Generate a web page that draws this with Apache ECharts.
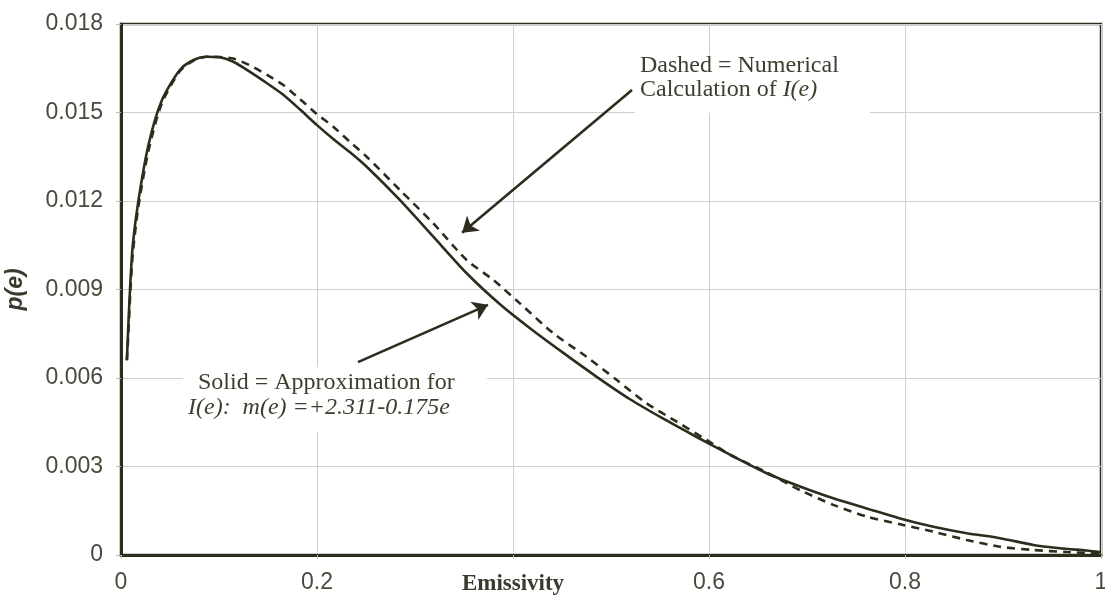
<!DOCTYPE html>
<html>
<head>
<meta charset="utf-8">
<script src="https://cdn.jsdelivr.net/npm/echarts@6/dist/echarts.min.js"></script>
<style>
  html, body { margin: 0; padding: 0; background: #fff; }
  #chart-box { width: 1105px; height: 597px; }
</style>
</head>
<body>
<div id="chart-box"></div>
<script>
// values
var solidX = [0.006, 0.0075, 0.0095, 0.012, 0.0177, 0.028, 0.0415, 0.06, 0.074, 0.0874, 0.101, 0.1146, 0.1316, 0.1487, 0.1656, 0.1827, 0.1997, 0.2166, 0.2337, 0.2507, 0.2847, 0.3187, 0.3527, 0.3867, 0.4207, 0.4513, 0.4854, 0.5194, 0.5534, 0.5874, 0.6214, 0.6589, 0.6929, 0.7268, 0.7609, 0.7949, 0.829, 0.863, 0.897, 0.931, 0.958, 0.985, 0.999];
var solidY = [0.0066, 0.0078, 0.0092, 0.0105, 0.012, 0.0139, 0.0154, 0.01644, 0.01678, 0.01689, 0.01687, 0.01672, 0.01638, 0.016, 0.0156, 0.0151, 0.01458, 0.0141, 0.01365, 0.01316, 0.01203, 0.01079, 0.00955, 0.0085, 0.0076, 0.00685, 0.00604, 0.00528, 0.00462, 0.004, 0.0034, 0.00277, 0.00232, 0.00192, 0.00158, 0.00124, 0.00096, 0.00074, 0.00057, 0.00034, 0.00023, 0.00015, 0.0001];

var dashX = [0.006, 0.0075, 0.0095, 0.012, 0.0177, 0.028, 0.0415, 0.06, 0.074, 0.0874, 0.101, 0.1146, 0.1316, 0.1487, 0.1656, 0.1827, 0.1997, 0.2166, 0.2337, 0.2507, 0.2847, 0.3187, 0.3527, 0.38, 0.407, 0.441, 0.475, 0.506, 0.5364, 0.567, 0.5976, 0.6214, 0.6589, 0.6929, 0.7268, 0.761, 0.795, 0.829, 0.863, 0.897, 0.931, 0.965, 0.999];
var dashY = [0.0066, 0.0075, 0.0089, 0.0102, 0.0118, 0.0137, 0.0153, 0.0164, 0.01676, 0.01689, 0.01688, 0.01683, 0.0166, 0.01628, 0.01593, 0.01545, 0.01495, 0.01452, 0.014, 0.0135, 0.01237, 0.01124, 0.01, 0.00932, 0.00853, 0.00752, 0.00672, 0.00593, 0.00514, 0.00452, 0.0039, 0.0034, 0.0028, 0.0022, 0.0017, 0.0013, 0.00104, 0.00079, 0.00051, 0.00028, 0.00017, 0.0001, 0.00005];

var xTickLabels = ["0", "0.2", "Emissivity", "0.6", "0.8", "1"];
var yTickLabels = ["0", "0.003", "0.006", "0.009", "0.012", "0.015", "0.018"];

// arrows (tail -> head) in data units
var arrowDashed = [[0.5214, 0.01576], [0.348, 0.01092]];
var arrowSolid = [[0.2418, 0.00654], [0.3745, 0.00848]];

function pairs(xs, ys) {
    return xs.map(function (x, i) { return [x, ys[i]]; });
}

var ink = "#2e2c1c";
var labelGray = "#4a4a3c";

var myChart = echarts.init(document.getElementById("chart-box"));
var option = {
    animation: false,
    backgroundColor: "#fff",
    grid: {
        left: 121, right: 4, top: 24, bottom: 42,
        outerBoundsMode: "none", containLabel: false,
        show: true, borderColor: ink, borderWidth: 2.5, backgroundColor: "transparent"
    },
    xAxis: {
        type: "value", min: 0, max: 1, interval: 0.2,
        axisLine: { lineStyle: { color: ink, width: 3 } },
        axisTick: { show: true, length: 4, lineStyle: { color: "#bbb" } },
        splitLine: { lineStyle: { color: "#cfcfcf", width: 1 } },
        axisLabel: {
            margin: 16, color: labelGray, fontFamily: "Liberation Sans", fontSize: 23,
            showMaxLabel: true, showMinLabel: true,
            formatter: function (v) {
                var i = Math.round(v / 0.2);
                return i === 2 ? "{b|" + xTickLabels[i] + "}" : xTickLabels[i];
            },
            rich: { b: { fontFamily: "Liberation Serif", fontWeight: "bold", fontSize: 23, color: "#3a3a2e", padding: [2, 0, 0, 0] } }
        }
    },
    yAxis: {
        type: "value", min: 0, max: 0.018, interval: 0.003,
        name: "p(e)", nameLocation: "middle", nameGap: 94,
        nameTextStyle: { fontFamily: "Liberation Sans", fontWeight: "bold", fontStyle: "italic", fontSize: 23, color: "#3a3a2e" },
        axisLine: { lineStyle: { color: ink, width: 3 } },
        axisTick: { show: true, length: 5, lineStyle: { color: "#bbb" } },
        splitLine: { lineStyle: { color: "#cfcfcf", width: 1 } },
        axisLabel: {
            margin: 18, color: labelGray, fontFamily: "Liberation Sans", fontSize: 23,
            formatter: function (v) { return yTickLabels[Math.round(v / 0.003)]; }
        }
    },
    series: [
        {
            name: "Solid", type: "line", data: pairs(solidX, solidY),
            showSymbol: false, smooth: 0.25,
            lineStyle: { color: ink, width: 2.6 },
            markLine: {
                silent: true, animation: false,
                symbol: ["none", "arrow"], symbolSize: 15,
                label: { show: false },
                lineStyle: { color: ink, width: 2.6, type: "solid" },
                data: [
                    [{ coord: arrowDashed[0] }, { coord: arrowDashed[1] }],
                    [{ coord: arrowSolid[0] }, { coord: arrowSolid[1] }]
                ]
            }
        },
        {
            name: "Dashed", type: "line", data: pairs(dashX, dashY),
            showSymbol: false, smooth: 0.25,
            lineStyle: { color: ink, width: 2.6, type: [8, 6] }
        }
    ],
    graphic: [
        { type: "rect", z: 1, shape: { x: 635, y: 55, width: 235, height: 58 }, style: { fill: "#fff" } },
        { type: "rect", z: 1, shape: { x: 183, y: 367, width: 304, height: 65 }, style: { fill: "#fff" } },
        {
            type: "text", z: 10, left: 640, top: 54,
            style: {
                text: "Dashed = Numerical\nCalculation of {i|I(e)}",
                font: "24px 'Liberation Serif'", fill: "#3f3d2e", lineHeight: 24,
                rich: { i: { fontStyle: "italic", fontFamily: "Liberation Serif", fontSize: 24, fill: "#3f3d2e" } }
            }
        },
        {
            type: "text", z: 10, left: 198, top: 371,
            style: { text: "Solid = Approximation for", font: "24px 'Liberation Serif'", fill: "#3f3d2e" }
        },
        {
            type: "text", z: 10, left: 188, top: 396,
            style: { text: "I(e):  m(e) =+2.311-0.175e", font: "italic 24px 'Liberation Serif'", fill: "#3f3d2e" }
        }
    ]
};
myChart.setOption(option);
</script>
</body>
</html>
